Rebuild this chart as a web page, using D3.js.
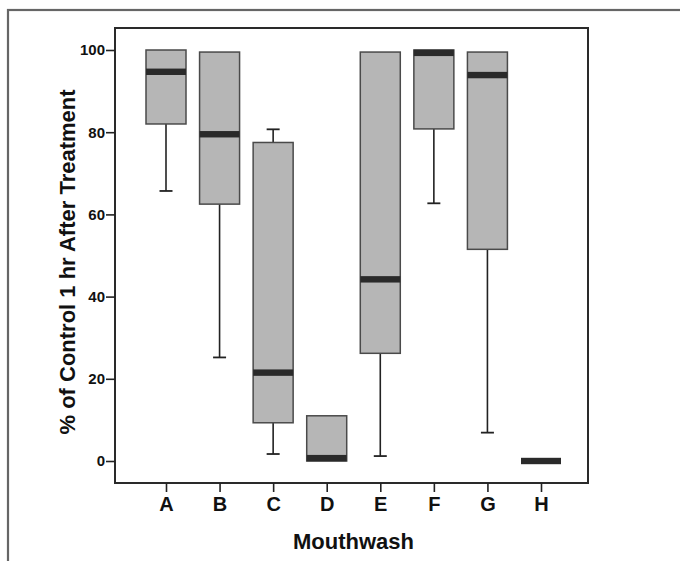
<!DOCTYPE html>
<html>
<head>
<meta charset="utf-8">
<script src="https://cdn.jsdelivr.net/npm/d3@7/dist/d3.min.js"></script>
<style>
  html, body { margin: 0; padding: 0; background: #fff; }
  svg { display: block; }
</style>
</head>
<body>
<svg id="chart" width="680" height="561"></svg>
<script>
// ---- data ----
const categories = ["A", "B", "C", "D", "E", "F", "G", "H"];
const whiskerLow  = [65.7, 25.2, 1.7, 0,   1.2, 62.7, 6.9, 0];
const q1          = [82,   62.5, 9.3, 0,  26.2, 80.8, 51.5, 0];
const median      = [94.7, 79.5, 21.5, 0.7, 44.2, 99.3, 93.9, 0];
const q3          = [100,  99.5, 77.5, 11, 99.5, 100, 99.5, 0];
const whiskerHigh = [100,  99.5, 80.7, 11, 99.5, 100, 99.5, 0];
const yTicks = [0, 20, 40, 60, 80, 100];
const xTitle = "Mouthwash";
const yTitle = "% of Control 1 hr After Treatment";

const rows = categories.map((c, i) => ({
  cat: c, lo: whiskerLow[i], q1: q1[i], med: median[i], q3: q3[i], hi: whiskerHigh[i]
}));

const svg = d3.select("#chart");
const font = "'Liberation Sans', Arial, Helvetica, sans-serif";

// outer frame (partially cropped in the reference)
svg.append("rect")
  .attr("x", 8).attr("y", 10).attr("width", 700).attr("height", 600)
  .attr("fill", "none").attr("stroke", "#666").attr("stroke-width", 2.2);

const frame = { left: 115, right: 588, top: 28, bottom: 483 };

const x = d3.scalePoint().domain(categories).range([166, 541]);
const y = d3.scaleLinear().domain([0, 100]).range([461, 50]);
const boxW = 40;
const capW = 13;

// plot frame
svg.append("rect")
  .attr("x", frame.left).attr("y", frame.top)
  .attr("width", frame.right - frame.left).attr("height", frame.bottom - frame.top)
  .attr("fill", "none").attr("stroke", "#2a2a2a").attr("stroke-width", 2);

// y axis
const yAxis = d3.axisLeft(y).tickValues(yTicks).tickSize(9).tickPadding(1);
const gy = svg.append("g").attr("transform", `translate(${frame.left},0)`).call(yAxis);
gy.select(".domain").remove();
gy.selectAll(".tick line").attr("stroke", "#222").attr("stroke-width", 1.6);
gy.selectAll(".tick text")
  .attr("font-family", font).attr("font-weight", "bold").attr("font-size", 15)
  .attr("fill", "#111");

// x axis
const xAxis = d3.axisBottom(x).tickSize(9).tickPadding(5);
const gx = svg.append("g").attr("transform", `translate(0,${frame.bottom})`).call(xAxis);
gx.select(".domain").remove();
gx.selectAll(".tick line").attr("stroke", "#222").attr("stroke-width", 1.6);
gx.selectAll(".tick text")
  .attr("font-family", font).attr("font-weight", "bold").attr("font-size", 20)
  .attr("fill", "#111");

// boxes
const g = svg.append("g");
const box = g.selectAll("g.box").data(rows).join("g").attr("class", "box");

// whiskers (lower)
box.filter(d => d.lo < d.q1).append("line")
  .attr("x1", d => x(d.cat)).attr("x2", d => x(d.cat))
  .attr("y1", d => y(d.q1)).attr("y2", d => y(d.lo))
  .attr("stroke", "#222").attr("stroke-width", 1.6);
box.filter(d => d.lo < d.q1).append("line")
  .attr("x1", d => x(d.cat) - capW / 2).attr("x2", d => x(d.cat) + capW / 2)
  .attr("y1", d => y(d.lo)).attr("y2", d => y(d.lo))
  .attr("stroke", "#222").attr("stroke-width", 1.8);
// whiskers (upper)
box.filter(d => d.hi > d.q3).append("line")
  .attr("x1", d => x(d.cat)).attr("x2", d => x(d.cat))
  .attr("y1", d => y(d.q3)).attr("y2", d => y(d.hi))
  .attr("stroke", "#222").attr("stroke-width", 1.6);
box.filter(d => d.hi > d.q3).append("line")
  .attr("x1", d => x(d.cat) - capW / 2).attr("x2", d => x(d.cat) + capW / 2)
  .attr("y1", d => y(d.hi)).attr("y2", d => y(d.hi))
  .attr("stroke", "#222").attr("stroke-width", 1.8);

// box rects
box.filter(d => d.q3 > d.q1).append("rect")
  .attr("x", d => x(d.cat) - boxW / 2).attr("width", boxW)
  .attr("y", d => y(d.q3)).attr("height", d => y(d.q1) - y(d.q3))
  .attr("fill", "#b6b6b6").attr("stroke", "#4a4a4a").attr("stroke-width", 1.5);

// median bands
box.append("rect")
  .attr("x", d => x(d.cat) - boxW / 2).attr("width", boxW)
  .attr("y", d => y(d.med) - 3.2).attr("height", 6.4)
  .attr("fill", "#2a2a2a");

// axis titles
svg.append("text")
  .attr("x", (frame.left + frame.right) / 2 + 2).attr("y", 549)
  .attr("text-anchor", "middle")
  .attr("font-family", font).attr("font-weight", "bold").attr("font-size", 22)
  .attr("fill", "#111").text(xTitle);

svg.append("text")
  .attr("transform", "translate(75,262) rotate(-90)")
  .attr("text-anchor", "middle")
  .attr("font-family", font).attr("font-weight", "bold").attr("font-size", 22)
  .attr("fill", "#111").text(yTitle);
</script>
</body>
</html>
